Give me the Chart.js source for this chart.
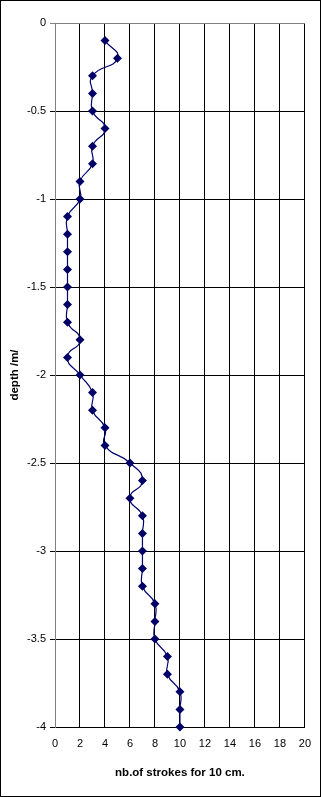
<!DOCTYPE html>
<html>
<head>
<meta charset="utf-8">
<script src="https://cdn.jsdelivr.net/npm/chart.js@4/dist/chart.umd.min.js"></script>
<style>
html,body{margin:0;padding:0;background:#fff;}
#wrap{width:321px;height:797px;position:relative;}
</style>
</head>
<body>
<div id="wrap"><canvas id="c" width="321" height="797"></canvas></div>
<script>
const depths = [-0.1,-0.2,-0.3,-0.4,-0.5,-0.6,-0.7,-0.8,-0.9,-1.0,
  -1.1,-1.2,-1.3,-1.4,-1.5,-1.6,-1.7,-1.8,-1.9,-2.0,
  -2.1,-2.2,-2.3,-2.4,-2.5,-2.6,-2.7,-2.8,-2.9,-3.0,
  -3.1,-3.2,-3.3,-3.4,-3.5,-3.6,-3.7,-3.8,-3.9,-4.0];
const strokes = [4,5,3,3,3,4,3,3,2,2,
  1,1,1,1,1,1,1,2,1,2,
  3,3,4,4,6,7,6,7,7,7,
  7,7,8,8,8,9,9,10,10,10];
const xTitle = "nb.of strokes for 10 cm.";
const yTitle = "depth /m/";

const points = depths.map((d,i)=>({x:strokes[i], y:d}));

const frame = {
  id:'frame',
  afterDraw(chart){
    const c = chart.ctx;
    c.save();
    c.strokeStyle = '#000';
    c.lineWidth = 1;
    c.strokeRect(0.5,0.5,chart.width-1,chart.height-1);
    c.restore();
  }
};

const font = {family:"'Liberation Sans', Arial, sans-serif", size:11};
const bold = {family:"'Liberation Sans', Arial, sans-serif", size:11.5, weight:'bold'};

new Chart(document.getElementById('c'), {
  type:'line',
  data:{datasets:[{
    data:points,
    borderColor:'#000070',
    backgroundColor:'#000066',
    borderWidth:1.2,
    tension:0.55,
    cubicInterpolationMode:'default',
    pointStyle:'rectRot',
    pointRadius:4.5,
    pointBorderWidth:0,
    pointBackgroundColor:'#000066',
    fill:false,
    clip:false
  }]},
  options:{
    responsive:false,
    animation:false,
    devicePixelRatio:1,
    layout:{padding:{left:0,top:23,right:12,bottom:0}},
    plugins:{legend:{display:false},tooltip:{enabled:false}},
    scales:{
      x:{
        type:'linear', min:0, max:20,
        ticks:{stepSize:2, color:'#000', font:font, padding:10, maxRotation:0,
          callback:v=>String(v)},
        grid:{color:ctx=>ctx.tick && ctx.tick.value===0 ? '#808080' : '#000', drawTicks:false, lineWidth:1},
        border:{color:'#000', width:1},
        title:{display:true, text:xTitle, color:'#000', font:bold, padding:{top:4,bottom:17}},
        afterFit(s){ s.height = 70; }
      },
      y:{
        type:'linear', min:-4, max:0,
        ticks:{stepSize:0.5, color:'#000', font:font, padding:4,
          callback:v=>String(Math.round(v*10)/10)},
        grid:{color:ctx=>ctx.tick && ctx.tick.value===0 ? '#808080' : '#000', tickLength:5, lineWidth:1},
        border:{color:'#808080', width:1},
        title:{display:true, text:yTitle, color:'#000', font:bold, padding:{top:8,bottom:8}},
        afterFit(s){ s.width = 55; }
      }
    }
  },
  plugins:[frame]
});
</script>
</body>
</html>
